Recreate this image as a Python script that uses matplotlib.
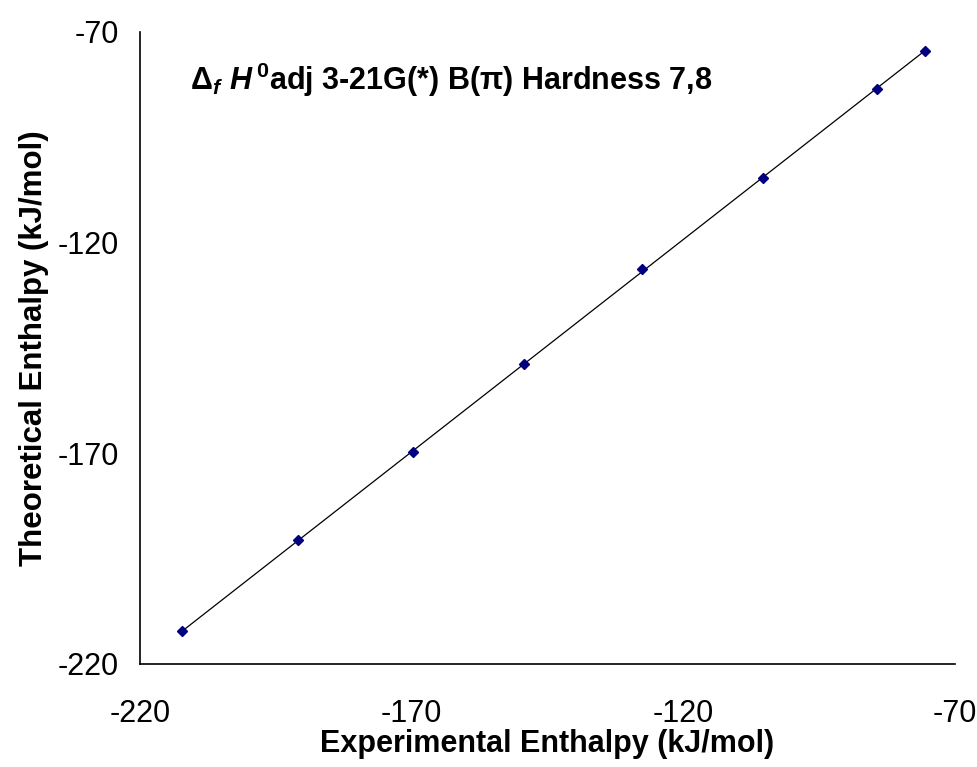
import numpy as np
import matplotlib
matplotlib.use("Agg")
import matplotlib.pyplot as plt

plt.rcParams['font.family'] = ['Liberation Sans', 'DejaVu Sans']
plt.rcParams['axes.unicode_minus'] = False
plt.rcParams['mathtext.fontset'] = 'custom'
plt.rcParams['mathtext.rm'] = 'Liberation Sans:bold'
plt.rcParams['mathtext.it'] = 'Liberation Sans:bold:italic'
plt.rcParams['mathtext.bf'] = 'Liberation Sans:bold'

# experimental vs theoretical enthalpy (kJ/mol)
experimental = [-212.2, -190.9, -169.8, -149.3, -127.5, -105.3, -84.4, -75.5]
theoretical = [-212.2, -190.6, -169.7, -148.8, -126.3, -104.7, -83.5, -74.4]
ticks = [-220, -170, -120, -70]

fig = plt.figure(figsize=(9.77, 7.67), dpi=100)
ax = fig.add_axes([0.1433, 0.1343, 0.834, 0.824])

# trendline
slope, icpt = np.polyfit(experimental, theoretical, 1)
xs = np.array([min(experimental), max(experimental)])
ax.plot(xs, slope * xs + icpt, color='black', lw=0.9, zorder=2)
ax.plot(experimental, theoretical, linestyle='none', marker='D', ms=5.5,
        color='#000080', zorder=3)

ax.set_xlim(-220, -70)
ax.set_ylim(-220, -70)
ax.set_xticks(ticks)
ax.set_yticks(ticks)
ax.tick_params(length=0, labelsize=22)
ax.tick_params(axis='x', pad=25)
ax.tick_params(axis='y', pad=15)
ax.spines['top'].set_visible(False)
ax.spines['right'].set_visible(False)
for s in ('left', 'bottom'):
    ax.spines[s].set_linewidth(1.2)

ax.set_xlabel('Experimental Enthalpy (kJ/mol)', fontsize=22, fontweight='bold', labelpad=0)
ax.set_ylabel('Theoretical Enthalpy (kJ/mol)', fontsize=22.5, fontweight='bold', labelpad=6)

ax.text(0.061, 0.924, r'$\Delta_{f}\,\,H^{\,0}$adj 3-21G(*) B(π) Hardness 7,8',
        transform=ax.transAxes, fontsize=22, fontweight='bold', va='center', ha='left')

fig.savefig('out.png', dpi=100)
